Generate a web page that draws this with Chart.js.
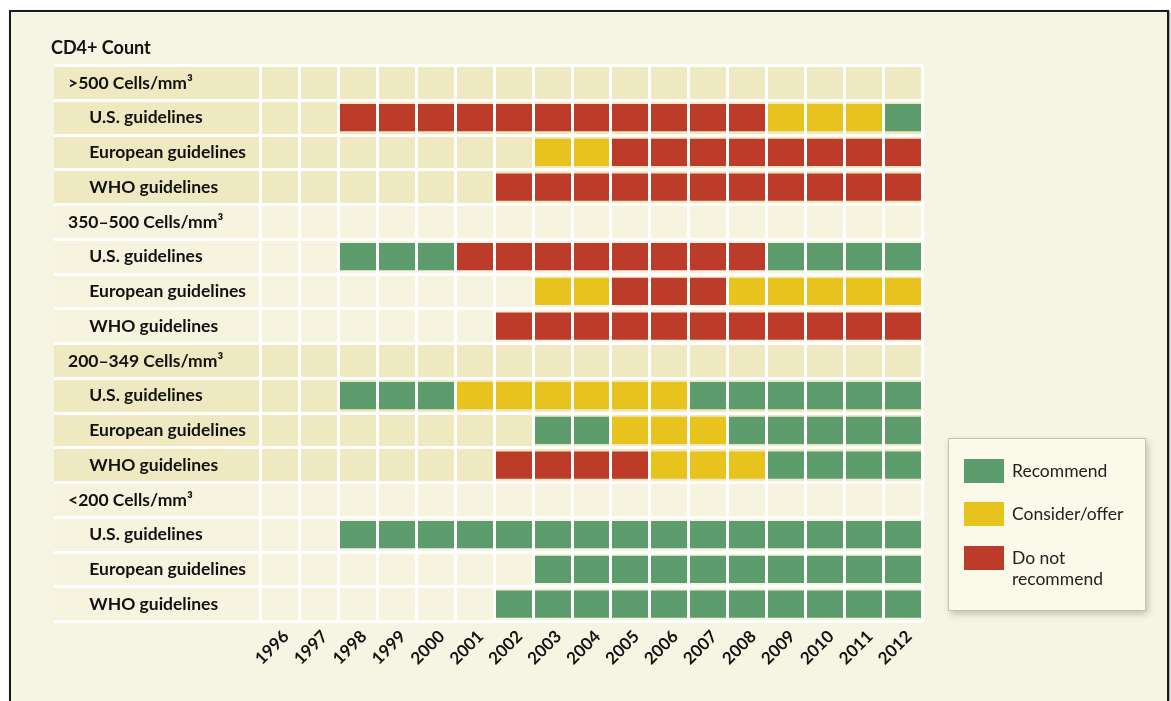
<!DOCTYPE html>
<html>
<head>
<meta charset="utf-8">
<script src="https://cdn.jsdelivr.net/npm/chart.js@4/dist/chart.umd.min.js"></script>
<style>
  body { margin: 0; background: #fff; overflow: hidden; font-family: Lato, "Open Sans", sans-serif; }
  #panel { position: absolute; left: 9px; top: 10px; width: 1156px; height: 720px; background: #f6f4e3; border: 2px solid #1a1a1a; box-shadow: 1px 1px 2px rgba(0,0,0,0.45); }
  #chart { position: absolute; left: 0; top: 0; }
  #legend { position: absolute; left: 948px; top: 438px; width: 196px; height: 171px; background: #fbf9ea; border: 1px solid #cbbfae; box-shadow: 2px 3px 7px rgba(0,0,0,0.22); }
  .legend-item { position: absolute; left: 15px; display: flex; align-items: flex-start; }
  .legend-swatch { width: 40px; height: 24px; flex: none; }
  .legend-text { margin-left: 8px; width: 125px; font-size: 17.5px; line-height: 21px; color: #222; margin-top: 1px; }
</style>
</head>
<body>
<div id="panel"></div>
<canvas id="chart" width="1171" height="701"></canvas>
<div id="legend"></div>
<script>
const years = ['1996', '1997', '1998', '1999', '2000', '2001', '2002', '2003', '2004', '2005', '2006', '2007', '2008', '2009', '2010', '2011', '2012'];
const cd4Groups = ['>500 Cells/mm³', '350–500 Cells/mm³', '200–349 Cells/mm³', '<200 Cells/mm³'];
const guidelineBodies = ['U.S. guidelines', 'European guidelines', 'WHO guidelines'];

// R = recommend, C = consider/offer, N = do not recommend, - = no guideline
const over500US  = ['-','-','N','N','N','N','N','N','N','N','N','N','N','C','C','C','R'];
const over500EU  = ['-','-','-','-','-','-','-','C','C','N','N','N','N','N','N','N','N'];
const over500WHO = ['-','-','-','-','-','-','N','N','N','N','N','N','N','N','N','N','N'];
const mid350US   = ['-','-','R','R','R','N','N','N','N','N','N','N','N','R','R','R','R'];
const mid350EU   = ['-','-','-','-','-','-','-','C','C','N','N','N','C','C','C','C','C'];
const mid350WHO  = ['-','-','-','-','-','-','N','N','N','N','N','N','N','N','N','N','N'];
const mid200US   = ['-','-','R','R','R','C','C','C','C','C','C','R','R','R','R','R','R'];
const mid200EU   = ['-','-','-','-','-','-','-','R','R','C','C','C','R','R','R','R','R'];
const mid200WHO  = ['-','-','-','-','-','-','N','N','N','N','C','C','C','R','R','R','R'];
const under200US  = ['-','-','R','R','R','R','R','R','R','R','R','R','R','R','R','R','R'];
const under200EU  = ['-','-','-','-','-','-','-','R','R','R','R','R','R','R','R','R','R'];
const under200WHO = ['-','-','-','-','-','-','R','R','R','R','R','R','R','R','R','R','R'];

const statusKeys = ['R', 'C', 'N'];
const statusNames = ['Recommend', 'Consider/offer', 'Do not recommend'];
const statusColors = ['#5c9c6d', '#e8c31e', '#bc3b29'];

const groupRows = [
  [over500US, over500EU, over500WHO],
  [mid350US, mid350EU, mid350WHO],
  [mid200US, mid200EU, mid200WHO],
  [under200US, under200EU, under200WHO]
];

const FONT = 'Lato, "Open Sans", sans-serif';
const LABEL_SIZE = 17.5;
const bandColors = ['#efe9c2', '#f6f3de'];
const labelColLeft = 54;

// leading blanks to indent the row labels by a given pixel width
function indent(px) {
  const c = document.createElement('canvas').getContext('2d');
  c.font = `bold ${LABEL_SIZE}px ${FONT}`;
  const w = c.measureText(' ').width || 4;
  return ' '.repeat(Math.round(px / w));
}
const headerIndent = indent(19);
const guideIndent = indent(38);

// one row for the group header, then one per guideline body
// (zero-width spaces keep repeated labels distinct for the category scale)
const rowLabels = [];
const rowStatus = [];
cd4Groups.forEach((group, g) => {
  rowLabels.push(headerIndent + group);
  rowStatus.push(null);
  guidelineBodies.forEach((body, b) => {
    rowLabels.push(guideIndent + body + '\u200B'.repeat(g));
    rowStatus.push(groupRows[g][b]);
  });
});

const datasets = statusKeys.map((key, k) => {
  const data = [];
  rowStatus.forEach((row, r) => {
    if (!row) return;
    row.forEach((s, i) => {
      if (s === key) {
        const yr = Number(years[i]);
        data.push({ x: [yr - 0.5, yr + 0.5], y: rowLabels[r] });
      }
    });
  });
  return {
    label: statusNames[k],
    data,
    xAxisID: 'xv',
    yAxisID: 'y',
    backgroundColor: statusColors[k],
    borderWidth: 0
  };
});

const rowBands = {
  id: 'rowBands',
  beforeDraw(chart) {
    const y = chart.scales.y;
    const area = chart.chartArea;
    const rowH = (y.bottom - y.top) / rowLabels.length;
    const ctx = chart.ctx;
    ctx.save();
    rowLabels.forEach((_, i) => {
      const cy = y.getPixelForValue(i);
      ctx.fillStyle = bandColors[Math.floor(i / 4) % 2];
      ctx.fillRect(labelColLeft, cy - rowH / 2, area.right - labelColLeft, rowH);
    });
    ctx.restore();
  }
};

const chart = new Chart(document.getElementById('chart'), {
  type: 'bar',
  data: { labels: rowLabels, datasets },
  options: {
    responsive: false,
    animation: false,
    indexAxis: 'y',
    layout: { padding: { left: 51, right: 248.5, top: 37.2, bottom: 0 } },
    datasets: { bar: { grouped: false, categoryPercentage: 1, barPercentage: 0.78 } },
    plugins: {
      legend: { display: false },
      tooltip: { enabled: false },
      title: {
        display: true,
        text: 'CD4+ Count',
        align: 'start',
        color: '#111',
        font: { family: FONT, size: 18, weight: 'bold' },
        padding: { top: 0, bottom: 6.7 }
      }
    },
    scales: {
      y: {
        type: 'category',
        position: 'left',
        offset: true,
        afterFit: s => { s.width = 209.5; },
        border: { display: false },
        grid: { z: 1, offset: true, color: '#ffffff', lineWidth: 3, tickLength: 206.5, tickColor: '#ffffff', tickWidth: 3 },
        ticks: { crossAlign: 'far', autoSkip: false, color: '#111', font: { family: FONT, size: LABEL_SIZE, weight: 'bold' } }
      },
      x: {
        type: 'category',
        labels: years,
        position: 'bottom',
        offset: true,
        afterFit: s => { s.height = 79.5; },
        border: { display: false },
        grid: { z: 1, offset: true, color: '#ffffff', lineWidth: 3, drawTicks: false },
        ticks: { autoSkip: false, minRotation: 45, maxRotation: 45, padding: 5, labelOffset: 6, color: '#111', font: { family: FONT, size: 17, weight: 'bold' } }
      },
      xv: { type: 'linear', display: false, min: 1995.5, max: 2012.5 }
    }
  },
  plugins: [rowBands]
});

// legend box built from the datasets
const legendTops = [20, 63, 107];
const legendEl = document.getElementById('legend');
chart.data.datasets.forEach((ds, i) => {
  const item = document.createElement('div');
  item.className = 'legend-item';
  item.style.top = legendTops[i] + 'px';
  item.innerHTML = `<div class="legend-swatch" style="background:${ds.backgroundColor}"></div><div class="legend-text">${ds.label}</div>`;
  legendEl.appendChild(item);
});
</script>
</body>
</html>
